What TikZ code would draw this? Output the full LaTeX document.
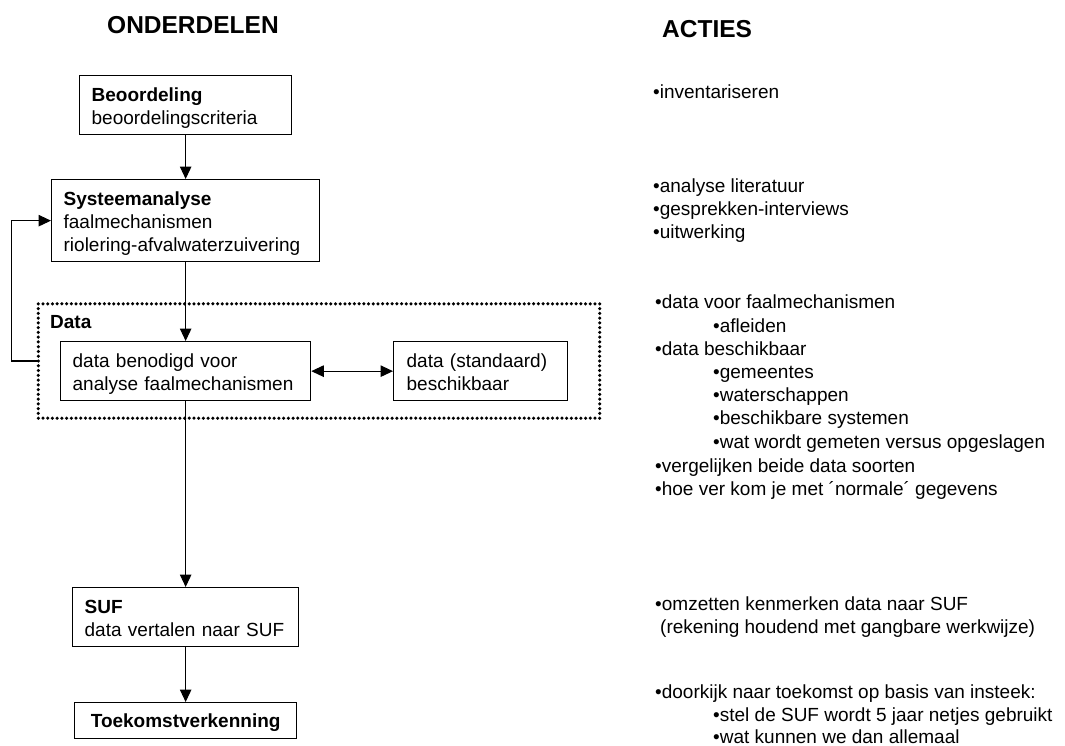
\documentclass[tikz,border=0pt]{standalone}
\usepackage{fontspec}
\setmainfont{Liberation Sans}
\usetikzlibrary{arrows.meta,calc}

% struts that fix the space above the first and below the last line of a box
\newcommand\boxtop{\rule{0pt}{26pt}}
\newcommand\boxbot{\rule[-10pt]{0pt}{10pt}}

\begin{document}
\begin{tikzpicture}[x=1pt,y=-1pt,
  font=\fontsize{19}{23}\selectfont,
  stepbox/.style={draw, line width=1.3pt, anchor=north west, inner xsep=12pt,
    inner ysep=0pt, align=left, text width=#1-24pt},
  heading/.style={font=\fontsize{24.5}{28}\selectfont\bfseries, anchor=base west, inner sep=0pt},
  act/.style={anchor=base west, inner sep=0pt},
  tip/.tip={Triangle[length=12.5pt,width=11.5pt]},
  link/.style={line width=1.1pt, -tip},
  groupbox/.style={minimum width=561pt, minimum height=114pt, inner sep=0pt}]

\useasboundingbox (0,0) rectangle (1065,745);

% column headings
\node[heading] (h1) at (107,33) {ONDERDELEN};
\node[heading] (h2) at (662,37) {ACTIES};

% dotted group around the data steps: a row of round dots on each side
\node[groupbox] (databox) at (319,361) {};
\foreach \i in {0,...,119} {
  \fill ($(databox.north west)!\i/119!(databox.north east)$) circle (1.75pt);
  \fill ($(databox.south west)!\i/119!(databox.south east)$) circle (1.75pt);
}
\foreach \i in {1,...,23} {
  \fill ($(databox.north west)!\i/24!(databox.south west)$) circle (1.75pt);
  \fill ($(databox.north east)!\i/24!(databox.south east)$) circle (1.75pt);
}
\node[act, font=\fontsize{19}{23}\selectfont\bfseries] (datalbl) at (50,328) {Data};

% steps
\node[stepbox=212pt] (beo) at (79,75)
  {\boxtop\textbf{Beoordeling}\\beoordelingscriteria\boxbot};
\node[stepbox=268pt] (sys) at (51,179)
  {\boxtop\textbf{Systeemanalyse}\\faalmechanismen\\riolering-afvalwaterzuivering\boxbot};
\node[stepbox=250pt] (datab) at (60,341)
  {\boxtop data benodigd voor\\analyse faalmechanismen\boxbot};
\node[stepbox=174pt, inner xsep=13pt, text width=148pt] (datas) at (393,341)
  {\boxtop data (standaard)\\beschikbaar\boxbot};
\node[stepbox=226pt] (suf) at (72,587)
  {\boxtop\textbf{SUF}\\data vertalen naar SUF\boxbot};
\node[stepbox=222pt, align=center] (toek) at (74,702)
  {\rule{0pt}{25pt}\textbf{Toekomstverkenning}\rule[-11pt]{0pt}{11pt}};

% connectors
\draw[link] (beo.south) -- (sys.north);
\draw[link] (sys.south) -- (datab.north);
\draw[link] (datab.south) -- (suf.north);
\draw[link] (suf.south) -- (toek.north);
\draw[line width=1.1pt, tip-tip] (datab.east) -- (datas.west);
\draw[link] (databox.west) -- ++(-27,0) |- (sys.west);

% actions
\node[act] (a1)  at (653,98)  {•inventariseren};
\node[act] (a2)  at (653,192) {•analyse literatuur};
\node[act] (a3)  at (653,215) {•gesprekken-interviews};
\node[act] (a4)  at (653,238) {•uitwerking};
\node[act] (a5)  at (655,308) {•data voor faalmechanismen};
\node[act] (a6)  at (713,332) {•afleiden};
\node[act] (a7)  at (655,355) {•data beschikbaar};
\node[act] (a8)  at (713,378) {•gemeentes};
\node[act] (a9)  at (713,401) {•waterschappen};
\node[act] (a10) at (713,424) {•beschikbare systemen};
\node[act] (a11) at (713,448) {•wat wordt gemeten versus opgeslagen};
\node[act] (a12) at (655,472) {•vergelijken beide data soorten};
\node[act] (a13) at (655,495) {•hoe ver kom je met ´normale´ gegevens};
\node[act] (a14) at (655,610) {•omzetten kenmerken data naar SUF};
\node[act] (a15) at (660,633) {(rekening houdend met gangbare werkwijze)};
\node[act] (a16) at (655,698) {•doorkijk naar toekomst op basis van insteek:};
\node[act] (a17) at (713,721) {•stel de SUF wordt 5 jaar netjes gebruikt};
\node[act] (a18) at (713,743) {•wat kunnen we dan allemaal};
\end{tikzpicture}
\end{document}
